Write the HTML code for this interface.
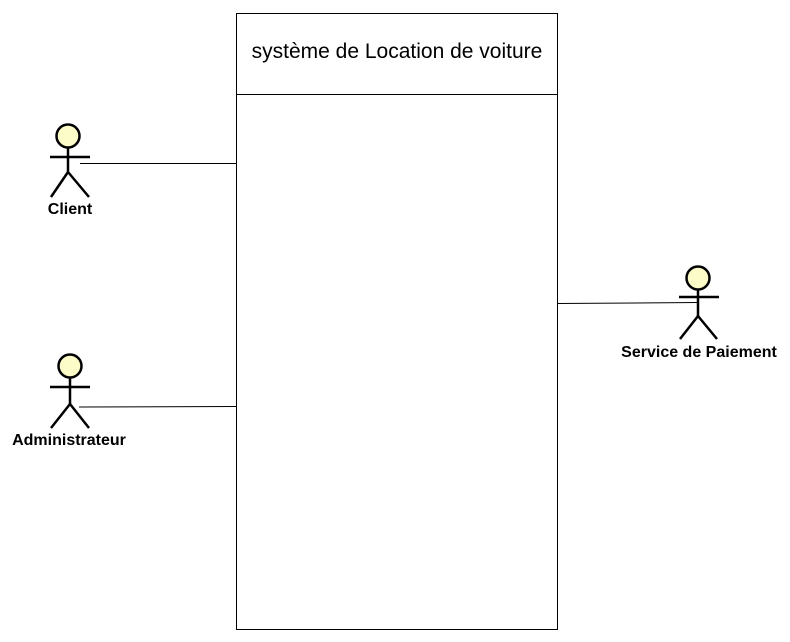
<!DOCTYPE html>
<html><head><meta charset="utf-8"><style>html,body{margin:0;padding:0;background:#fff}svg{display:block}</style></head>
<body>
<svg width="790" height="642" xmlns="http://www.w3.org/2000/svg" font-family="Liberation Sans, Arial, sans-serif">
<rect x="0" y="0" width="790" height="642" fill="#fff"/>
<rect x="236.5" y="13.5" width="321" height="616" fill="#fff" stroke="#000" stroke-width="1"/>
<line x1="236" y1="94.5" x2="558" y2="94.5" stroke="#000"/>
<text x="397" y="58" font-size="21" text-anchor="middle" fill="#000">système de Location de voiture</text>
<g stroke="#000" fill="none">
<line x1="80" y1="163.5" x2="236" y2="163.5"/>
<line x1="79" y1="407" x2="236" y2="406.5"/>
<line x1="557" y1="303.5" x2="698" y2="302.5"/>
</g>
<g stroke="#000" stroke-width="2.5" fill="none">
<circle cx="68" cy="136" r="11.5" fill="#fcfcc8"/>
<line x1="68" y1="148" x2="68" y2="172"/><line x1="50" y1="157" x2="90" y2="157"/>
<line x1="68" y1="172" x2="51" y2="197"/><line x1="68" y1="172" x2="89" y2="197"/>
<circle cx="70" cy="366" r="11.5" fill="#fcfcc8"/>
<line x1="70" y1="378" x2="70" y2="404"/><line x1="50" y1="387" x2="90" y2="387"/>
<line x1="70" y1="404" x2="51" y2="428"/><line x1="70" y1="404" x2="89" y2="428"/>
<circle cx="698" cy="278" r="11.5" fill="#fcfcc8"/>
<line x1="698" y1="290" x2="698" y2="316"/><line x1="679" y1="297" x2="719" y2="297"/>
<line x1="698" y1="316" x2="680" y2="339"/><line x1="698" y1="316" x2="717" y2="339"/>
</g>
<g font-size="16" font-weight="bold" text-anchor="middle" fill="#000">
<text x="70" y="214">Client</text>
<text x="69" y="445">Administrateur</text>
<text x="699" y="357">Service de Paiement</text>
</g>
</svg>
</body></html>
